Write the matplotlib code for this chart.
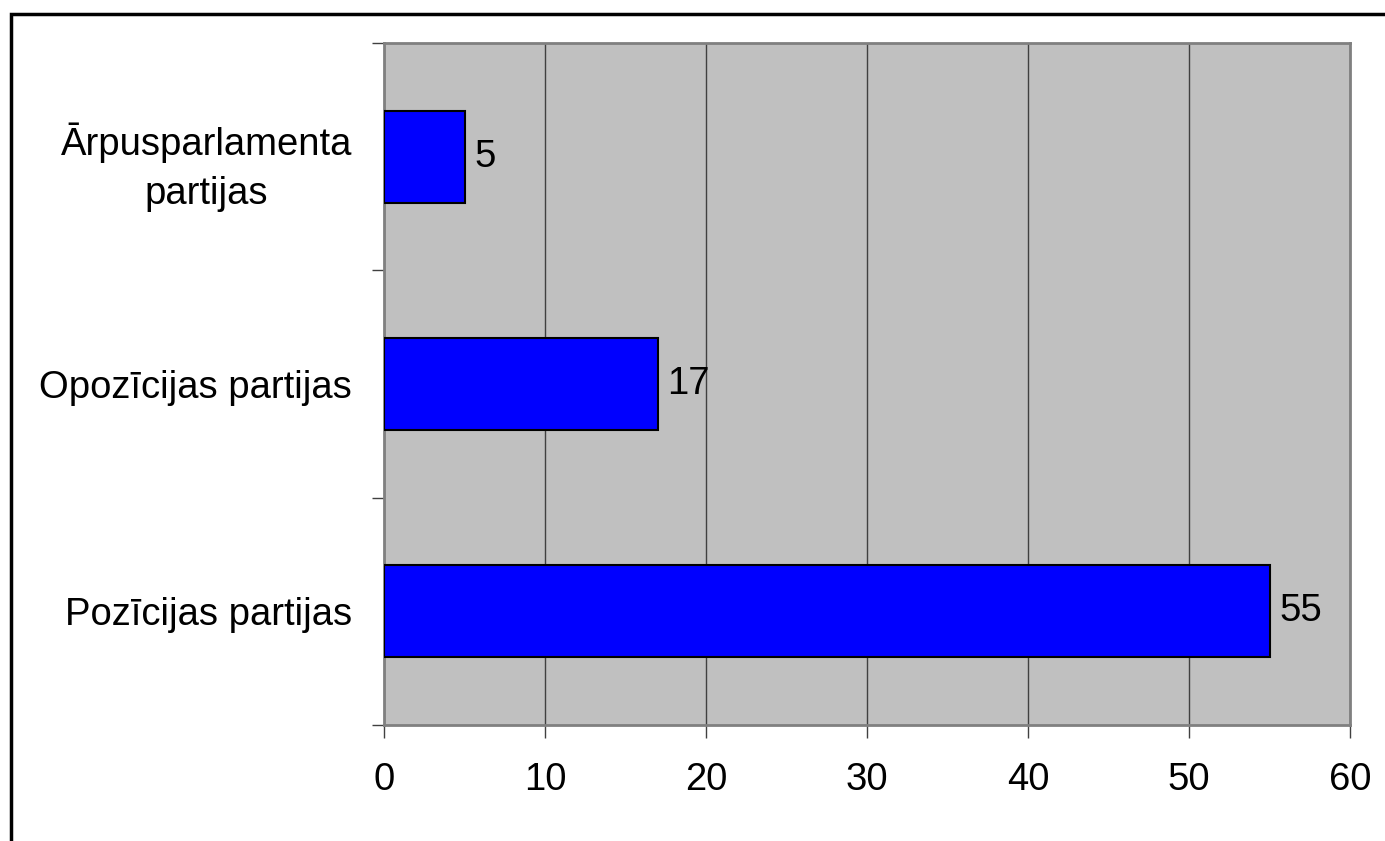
import matplotlib
matplotlib.use("Agg")
from matplotlib import pyplot as plt
from matplotlib.patches import Rectangle

categories = ["Pozīcijas partijas", "Opozīcijas partijas", "Ārpusparlamenta\npartijas"]
values = [55, 17, 5]
x_ticks = [0, 10, 20, 30, 40, 50, 60]

plt.rcParams['font.family'] = ['Liberation Sans', 'DejaVu Sans']

fig = plt.figure(figsize=(13.85, 8.41), dpi=100)
ax = fig.add_axes([384 / 1385, 1 - 725 / 841, (1350 - 384) / 1385, (725 - 43) / 841])

# outer frame (runs off the right and bottom edges)
fig.patches.append(Rectangle((10.5 / 1385, -0.1), 1.2, 1 - 13.5 / 841 + 0.1,
                             transform=fig.transFigure, fill=False,
                             edgecolor='black', linewidth=2.5))

ax.set_facecolor('#C0C0C0')
pos = list(range(len(categories)))
bars = ax.barh(pos, values, height=0.405, color='#0000FF', edgecolor='black',
               linewidth=1.5, zorder=3)
for b, v in zip(bars, values):
    ax.text(b.get_width() + 0.6, b.get_y() + b.get_height() / 2, str(v),
            va='center', ha='left', fontsize=27.5, zorder=4)

ax.set_xlim(0, 60)
ax.set_ylim(-0.5, len(categories) - 0.5)
ax.set_xticks(x_ticks)
ax.set_xticklabels([str(t) for t in x_ticks])
ax.set_yticks(pos)
ax.set_yticklabels(categories, multialignment='center', linespacing=1.45)
ax.set_yticks([p - 0.5 for p in pos] + [len(pos) - 0.5], minor=True)

ax.xaxis.grid(True, color='#404040', linewidth=1, zorder=1)
ax.set_axisbelow(True)

ax.tick_params(axis='x', direction='out', length=9, width=1, colors='#404040',
               labelcolor='black', labelsize=27.5, pad=18)
ax.tick_params(axis='y', which='major', length=0, labelsize=27.5, pad=23)
ax.tick_params(axis='y', which='minor', direction='out', length=9, width=1, color='#404040')

for s in ax.spines.values():
    s.set_color('#808080')
    s.set_linewidth(2)

fig.savefig('out.png', dpi=100)
